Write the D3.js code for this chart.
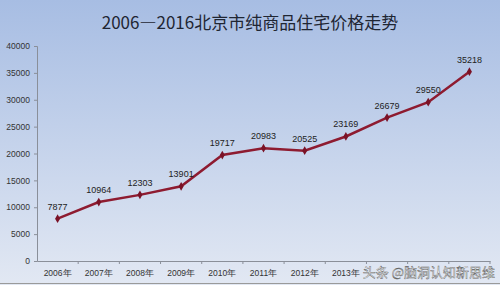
<!DOCTYPE html>
<html lang="zh">
<head>
<meta charset="utf-8">
<script src="https://d3js.org/d3.v7.min.js"></script>
<style>
  body { margin: 0; }
  svg { display: block; font-family: "Noto Sans CJK SC", "Liberation Sans", sans-serif; }
</style>
</head>
<body>
<svg width="500" height="285"></svg>
<script>
// data
var years = ["2006年","2007年","2008年","2009年","2010年","2011年","2012年","2013年","2014年","2015年","2016年"];
var prices = [7877, 10964, 12303, 13901, 19717, 20983, 20525, 23169, 26679, 29550, 35218];
var yTicks = [0, 5000, 10000, 15000, 20000, 25000, 30000, 35000, 40000];
// these year labels sit under the watermark in the source image
var hiddenYears = ["2014年","2015年","2016年"];

var svg = d3.select("svg"),
    width = +svg.attr("width"),
    height = +svg.attr("height");

// background gradient
var defs = svg.append("defs");
var grad = defs.append("linearGradient").attr("id", "bg")
    .attr("x1", 0).attr("y1", 0).attr("x2", 0).attr("y2", 1);
grad.append("stop").attr("offset", "0%").attr("stop-color", "#a7bde3");
grad.append("stop").attr("offset", "100%").attr("stop-color", "#e2e8f3");

svg.append("rect").attr("width", width).attr("height", height).attr("fill", "url(#bg)");
svg.append("line").attr("x1", 0).attr("x2", width).attr("y1", 283.5).attr("y2", 283.5)
    .attr("stroke", "#9a9a9a").attr("stroke-width", 1);

// title
svg.append("text")
    .attr("x", 250).attr("y", 29)
    .attr("text-anchor", "middle")
    .style("font-size", "17px")
    .attr("fill", "#1f2633")
    .text("2006—2016北京市纯商品住宅价格走势");

var x = d3.scaleBand().domain(years).range([37, 490]);
var y = d3.scaleLinear().domain([0, 40000]).range([261, 46]);

// y axis
var yAxis = svg.append("g").attr("transform", "translate(37,0)")
    .call(d3.axisLeft(y).tickValues(yTicks).tickSize(3).tickPadding(4).tickFormat(d3.format("d")));
yAxis.selectAll("text").style("font-size", "8.5px").attr("fill", "#333").style("font-family", "Liberation Sans, sans-serif");
yAxis.selectAll("line, path").attr("stroke", "#8a8f99");

// x axis
var xAxis = svg.append("g").attr("transform", "translate(0,261)")
    .call(d3.axisBottom(x).tickSize(0).tickPadding(9));
xAxis.select("path").attr("stroke", "#8a8f99");
xAxis.selectAll("text").style("font-size", "8.5px").attr("fill", "#333");
xAxis.selectAll(".tick")
    .filter(function(d){ return hiddenYears.indexOf(d) >= 0; })
    .remove();
// tick marks on band boundaries
svg.append("g").selectAll("line")
    .data(years)
    .enter()
    .append("line")
    .attr("x1", function(d){ return x(d) + x.bandwidth(); })
    .attr("x2", function(d){ return x(d) + x.bandwidth(); })
    .attr("y1", 261).attr("y2", 264)
    .attr("stroke", "#8a8f99");

// line
var cx = function(d, i){ return x(years[i]) + x.bandwidth() / 2; };
var line = d3.line()
    .x(function(d, i){ return cx(d, i); })
    .y(function(d){ return y(d); });

svg.append("path")
    .datum(prices)
    .attr("d", line)
    .attr("fill", "none")
    .attr("stroke", "#8e1b30")
    .attr("stroke-width", 2.5);

// markers
svg.append("g").selectAll("path")
    .data(prices)
    .enter()
    .append("path")
    .attr("d", d3.symbol().type(d3.symbolDiamond).size(22))
    .attr("transform", function(d, i){ return "translate(" + cx(d, i) + "," + y(d) + ")"; })
    .attr("fill", "#7a1226");

// data labels
svg.append("g").selectAll("text")
    .data(prices)
    .enter()
    .append("text")
    .attr("x", function(d, i){ return cx(d, i); })
    .attr("y", function(d){ return y(d) - 9; })
    .attr("text-anchor", "middle")
    .style("font-size", "9px")
    .style("font-family", "Liberation Sans, sans-serif")
    .attr("fill", "#222")
    .text(function(d){ return d; });

// watermark
svg.append("text")
    .attr("x", 495).attr("y", 277)
    .attr("text-anchor", "end")
    .style("font-size", "13px")
    .attr("fill", "#ffffff")
    .attr("stroke", "#555")
    .attr("stroke-width", 0.4)
    .text("头条 @脑洞认知新思维");
</script>
</body>
</html>
